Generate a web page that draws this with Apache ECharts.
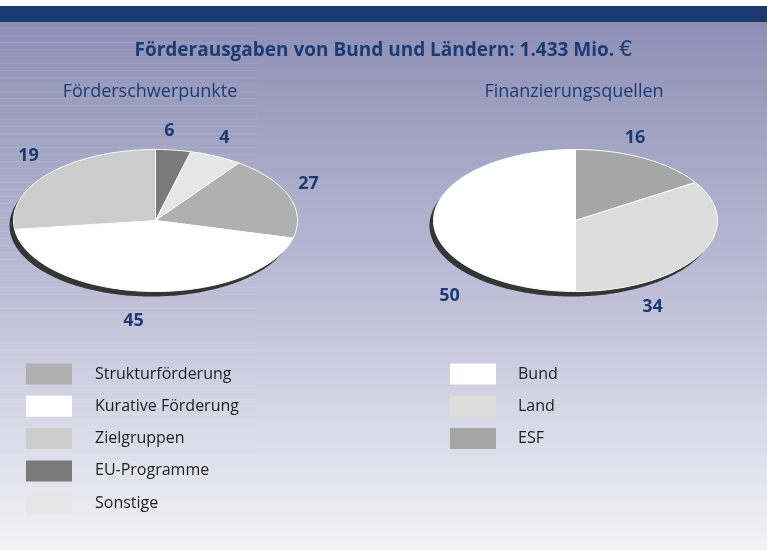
<!DOCTYPE html>
<html><head><meta charset="utf-8">
<script src="https://cdn.jsdelivr.net/npm/echarts@6/dist/echarts.min.js"></script>
<style>html,body{margin:0;padding:0;background:#fff}#c{width:767px;height:550px}</style>
</head><body><div id="c"></div><script>
// ---- data ----
const mainTitle = 'Förderausgaben von Bund und Ländern: 1.433 Mio. ';
const currencySign = '€';
const focusTitle = 'Förderschwerpunkte';
const sourceTitle = 'Finanzierungsquellen';

const focusCats = ['Strukturförderung', 'Kurative Förderung', 'Zielgruppen', 'EU-Programme', 'Sonstige'];
const focusShares = [19, 44, 27, 4, 6];          // slice sizes as drawn in the picture
const focusLabels = ['27', '45', '19', '6', '4']; // numbers printed next to the slices
const focusDrawOrder = [3, 4, 0, 1, 2];           // clockwise from 12 o'clock

const sourceCats = ['Bund', 'Land', 'ESF'];
const sourceShares = [50, 34, 16];
const sourceLabels = ['50', '34', '16'];
const sourceDrawOrder = [2, 1, 0];

// ---- style / layout ----
const focusColors = ['#b0b0b0', '#ffffff', '#cccccc', '#7a7a7a', '#e6e6e6'];
const sourceColors = ['#ffffff', '#dddddd', '#a6a6a6'];
const navy = '#1c3b74';
const FONT = '"Open Sans", "Noto Sans", sans-serif';

const pies = [
  { cx: 155.5, cy: 220.5, rx: 142, ry: 71, cats: focusCats, shares: focusShares, labels: focusLabels,
    order: focusDrawOrder, colors: focusColors,
    labelOffsets: { 0: [153, -37], 1: [-22, 100], 2: [-127, -65], 3: [14, -90], 4: [69, -83] } },
  { cx: 575.5, cy: 220.5, rx: 142, ry: 71, cats: sourceCats, shares: sourceShares, labels: sourceLabels,
    order: sourceDrawOrder, colors: sourceColors,
    labelOffsets: { 0: [-126, 75], 1: [77, 86], 2: [59.5, -83] } }
];

function ellipsePts(P, t0, t1, dx, dy) {
  const pts = [];
  const n = Math.max(2, Math.ceil((t1 - t0) / (Math.PI / 180)));
  for (let k = 0; k <= n; k++) {
    const t = t0 + (t1 - t0) * k / n;
    pts.push([P.cx + dx + P.rx * Math.sin(t), P.cy + dy - P.ry * Math.cos(t)]);
  }
  return pts;
}

function makeSeries(P) {
  const total = P.shares.reduce((a, b) => a + b, 0);
  const data = P.order.map(i => ({ name: P.cats[i], value: [P.shares[i]] }));
  return {
    type: 'custom',
    coordinateSystem: 'none',
    silent: true,
    data: data,
    renderItem: function (params, api) {
      const di = params.dataIndex;
      let before = 0;
      for (let k = 0; k < di; k++) before += P.shares[P.order[k]];
      const v = api.value(0);
      const t0 = before / total * Math.PI * 2;
      const t1 = (before + v) / total * Math.PI * 2;
      const catIdx = P.order[di];
      const children = [];
      if (di === 0) {
        children.push({
          type: 'polygon',
          shape: { points: ellipsePts(P, 0, Math.PI * 2, -4, 5) },
          style: { fill: '#353535' }
        });
      }
      const pts = ellipsePts(P, t0, t1, 0, 0);
      pts.unshift([P.cx, P.cy]);
      children.push({
        type: 'polygon',
        shape: { points: pts },
        style: { fill: P.colors[catIdx], stroke: '#ffffff', lineWidth: 1, lineJoin: 'round' }
      });
      const off = P.labelOffsets[catIdx];
      children.push({
        type: 'text',
        x: P.cx + off[0], y: P.cy + off[1],
        z2: 10,
        style: {
          text: P.labels[catIdx], fill: navy, fontSize: 18, fontWeight: 'bold',
          fontFamily: FONT, align: 'center', verticalAlign: 'middle'
        }
      });
      return { type: 'group', children: children };
    }
  };
}

// background, stripes and legends
const graphics = [];
graphics.push({
  type: 'rect', z: -20, silent: true,
  shape: { x: 0, y: 22, width: 767, height: 528 },
  style: {
    fill: new echarts.graphic.LinearGradient(0, 0, 0, 1, [
      { offset: 0, color: '#8d90b5' },
      { offset: 0.5, color: '#bcbdd6' },
      { offset: 1, color: '#f3f2f7' }
    ])
  }
});
graphics.push({ type: 'rect', z: -19, silent: true, shape: { x: 0, y: 6, width: 767, height: 16 }, style: { fill: '#1a3a70' } });
for (let y = 28; y < 470; y += 7) {
  graphics.push({ type: 'rect', z: -18, silent: true, shape: { x: 0, y: y, width: 257, height: 1 },
    style: { fill: 'rgba(255,255,255,0.08)' } });
}
function legendBlock(cats, colors, x, textX, y0, gap) {
  cats.forEach((c, i) => {
    const yc = y0 + i * gap;
    graphics.push({ type: 'rect', silent: true, shape: { x: x, y: yc - 10.5, width: 46, height: 21 },
      style: { fill: colors[i] } });
    graphics.push({ type: 'text', silent: true, x: textX, y: yc,
      style: { text: c, fill: '#1e1e1e', fontSize: 16, fontFamily: FONT, verticalAlign: 'middle', align: 'left' } });
  });
}
legendBlock(focusCats, focusColors, 26, 95, 374, 32.3);
legendBlock(sourceCats, sourceColors, 450, 518, 374, 32.3);

const chart = echarts.init(document.getElementById('c'), null, { renderer: 'canvas' });
chart.setOption({
  animation: false,
  backgroundColor: '#ffffff',
  title: [
    { text: '{b|' + mainTitle + '}{e|' + currencySign + '}', left: 'center', top: 35,
      textStyle: { rich: {
        b: { fontSize: 19, fontWeight: 'bold', color: navy, fontFamily: FONT },
        e: { fontSize: 21, fontWeight: 'normal', color: navy, fontFamily: 'DejaVu Sans' } } } },
    { text: focusTitle, left: 145, top: 78, textAlign: 'center',
      textStyle: { fontSize: 18, fontWeight: 'normal', color: navy, fontFamily: FONT } },
    { text: sourceTitle, left: 569, top: 78, textAlign: 'center',
      textStyle: { fontSize: 18, fontWeight: 'normal', color: navy, fontFamily: FONT } }
  ],
  graphic: graphics,
  series: pies.map(makeSeries)
});
</script></body></html>
